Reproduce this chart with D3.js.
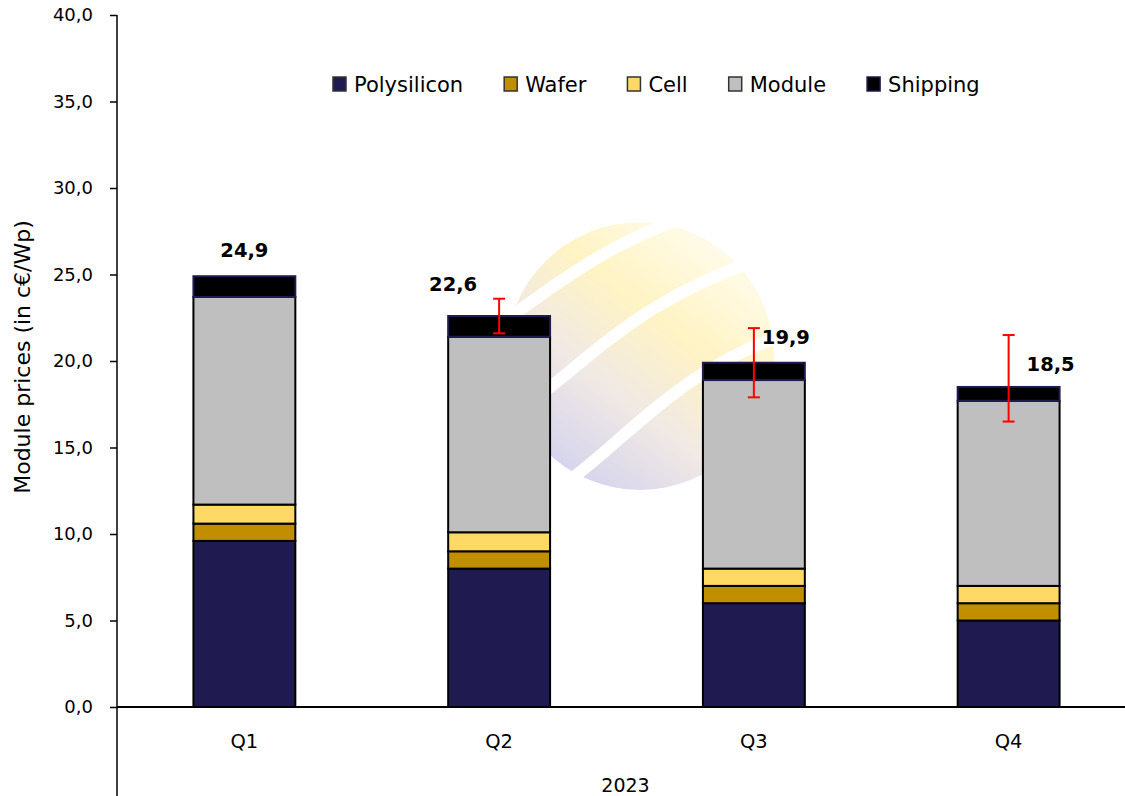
<!DOCTYPE html>
<html>
<head>
<meta charset="utf-8">
<script src="https://cdn.jsdelivr.net/npm/d3@7"></script>
<style>
  body { margin: 0; background: #fff; }
  svg text { font-family: "DejaVu Sans", sans-serif; fill: #000; }
</style>
</head>
<body>
<div id="chart"></div>
<script>
// datos del gráfico (c€/Wp)
var quarters = ["Q1", "Q2", "Q3", "Q4"];
var yearLabel = "2023";
var seriesNames = ["Polysilicon", "Wafer", "Cell", "Module", "Shipping"];
var polysilicon = [9.6, 8.0, 6.0, 5.0];
var wafer = [1.0, 1.0, 1.0, 1.0];
var cell = [1.1, 1.1, 1.0, 1.0];
var moduleCost = [12.0, 11.3, 10.9, 10.7];
var shipping = [1.2, 1.2, 1.0, 0.8];
var totals = [24.9, 22.6, 19.9, 18.5];
var errorLow = [null, 21.6, 17.9, 16.5];
var errorHigh = [null, 23.6, 21.9, 21.5];
var yTicks = [0, 5, 10, 15, 20, 25, 30, 35, 40];

var colors = ["#1f1a4f", "#bf8f00", "#ffd966", "#bfbfbf", "#000000"];

var width = 1125;
var height = 796;
var axisX0 = 117;

var svg = d3.select("#chart")
    .append("svg")
    .attr("width", width)
    .attr("height", height);

// escalas
var x = d3.scaleBand().domain(quarters).range([axisX0, 1136]).padding(0);
var y = d3.scaleLinear().domain([0, 40]).range([707, 15]);
var barW = x.bandwidth() * 0.4;

// tabla para el stack
var table = quarters.map(function (q, i) {
    return {
        quarter: q,
        Polysilicon: polysilicon[i],
        Wafer: wafer[i],
        Cell: cell[i],
        Module: moduleCost[i],
        Shipping: shipping[i]
    };
});
var stacked = d3.stack().keys(seriesNames)(table);

// marca de agua (logo difuminado)
var defs = svg.append("defs");
var grad = defs.append("linearGradient")
    .attr("id", "wmGrad")
    .attr("x1", "0.85").attr("y1", "0.1")
    .attr("x2", "0.2").attr("y2", "0.95");
grad.append("stop").attr("offset", "0").attr("stop-color", "#fffbe6");
grad.append("stop").attr("offset", "0.35").attr("stop-color", "#fff0b0");
grad.append("stop").attr("offset", "0.65").attr("stop-color", "#ece2dc");
grad.append("stop").attr("offset", "1").attr("stop-color", "#c4c3e8");
defs.append("clipPath").attr("id", "wmClip")
    .append("circle").attr("cx", 640).attr("cy", 356).attr("r", 134);

var wm = svg.append("g").attr("clip-path", "url(#wmClip)").attr("opacity", 0.75);
wm.append("circle")
    .attr("cx", 640).attr("cy", 356).attr("r", 134)
    .attr("fill", "url(#wmGrad)");
var swooshes = [
    "M470,345 C540,300 590,245 720,205",
    "M480,430 C570,395 610,300 790,250",
    "M520,510 C610,470 660,370 800,330"
];
wm.selectAll("path.sw")
    .data(swooshes)
    .enter()
    .append("path")
    .attr("class", "sw")
    .attr("d", function (d) { return d; })
    .attr("fill", "none")
    .attr("stroke", "#fff")
    .attr("stroke-width", 12);

// barras apiladas
var layers = svg.append("g")
    .selectAll("g")
    .data(stacked)
    .enter()
    .append("g")
    .attr("fill", function (d, i) { return colors[i]; });

layers.selectAll("rect")
    .data(function (d) { return d.map(function (v) { v.key = d.key; return v; }); })
    .enter()
    .append("rect")
    .attr("x", function (d) { return x(d.data.quarter) + (x.bandwidth() - barW) / 2; })
    .attr("y", function (d) { return y(d[1]); })
    .attr("width", barW)
    .attr("height", function (d) { return y(d[0]) - y(d[1]); })
    .attr("stroke", function (d) { return d.key === "Shipping" ? "#1f1a4f" : "#000"; })
    .attr("stroke-width", 2);

// barras de error
var errG = svg.append("g");
quarters.forEach(function (q, i) {
    if (errorLow[i] === null) return;
    var cx = x(q) + x.bandwidth() / 2;
    var top = y(errorHigh[i]);
    var bot = y(errorLow[i]);
    errG.append("line").attr("x1", cx).attr("x2", cx).attr("y1", top).attr("y2", bot);
    errG.append("line").attr("x1", cx - 6).attr("x2", cx + 6).attr("y1", top).attr("y2", top);
    errG.append("line").attr("x1", cx - 6).attr("x2", cx + 6).attr("y1", bot).attr("y2", bot);
});
errG.selectAll("line").attr("stroke", "#ff0000").attr("stroke-width", 2);

// etiquetas de total
var labelOffsets = [[0, -19], [-46, -25], [32, -19], [42, -16]];
svg.append("g")
    .selectAll("text")
    .data(totals)
    .enter()
    .append("text")
    .attr("x", function (d, i) { return x(quarters[i]) + x.bandwidth() / 2 + labelOffsets[i][0]; })
    .attr("y", function (d, i) { return y(d) + labelOffsets[i][1]; })
    .attr("text-anchor", "middle")
    .style("font-size", "19.5px")
    .style("font-weight", "bold")
    .text(function (d) { return d3.format(".1f")(d).replace(".", ","); });

// eje Y
var yAxis = d3.axisLeft(y)
    .tickValues(yTicks)
    .tickSize(7)
    .tickPadding(17)
    .tickFormat(function (d) { return d3.format(".1f")(d).replace(".", ","); });

var gy = svg.append("g")
    .attr("transform", "translate(" + axisX0 + ",0)")
    .call(yAxis);
gy.select(".domain").remove();
gy.selectAll(".tick line").attr("stroke", "#000").attr("stroke-width", 1.5);
gy.selectAll(".tick text").style("font-size", "18px").style("font-family", "DejaVu Sans");

svg.append("line")
    .attr("x1", axisX0).attr("x2", axisX0)
    .attr("y1", y(40)).attr("y2", height)
    .attr("stroke", "#000").attr("stroke-width", 1.5);

// eje X
svg.append("line")
    .attr("x1", axisX0).attr("x2", width)
    .attr("y1", y(0)).attr("y2", y(0))
    .attr("stroke", "#000").attr("stroke-width", 2);

svg.append("g")
    .selectAll("text")
    .data(quarters)
    .enter()
    .append("text")
    .attr("x", function (d) { return x(d) + x.bandwidth() / 2; })
    .attr("y", 748)
    .attr("text-anchor", "middle")
    .style("font-size", "19.5px")
    .text(function (d) { return d; });

svg.append("text")
    .attr("x", (x(quarters[0]) + x(quarters[3]) + x.bandwidth()) / 2 - 1)
    .attr("y", 792)
    .attr("text-anchor", "middle")
    .style("font-size", "19px")
    .text(yearLabel);

// título eje Y
svg.append("text")
    .attr("transform", "translate(30," + 357 + ") rotate(-90)")
    .attr("text-anchor", "middle")
    .style("font-size", "22px")
    .text("Module prices (in c€/Wp)");

// leyenda
var legend = svg.append("g");
var lx = 333;
seriesNames.forEach(function (name, i) {
    legend.append("rect")
        .attr("x", lx).attr("y", 77)
        .attr("width", 13).attr("height", 14)
        .attr("fill", colors[i])
        .attr("stroke", i === 4 ? "#1f1a4f" : "#333")
        .attr("stroke-width", 1.5);
    var t = legend.append("text")
        .attr("x", lx + 21)
        .attr("y", 92)
        .style("font-size", "21px")
        .text(name);
    lx = lx + 21 + t.node().getComputedTextLength() + 41;
});
</script>
</body>
</html>
